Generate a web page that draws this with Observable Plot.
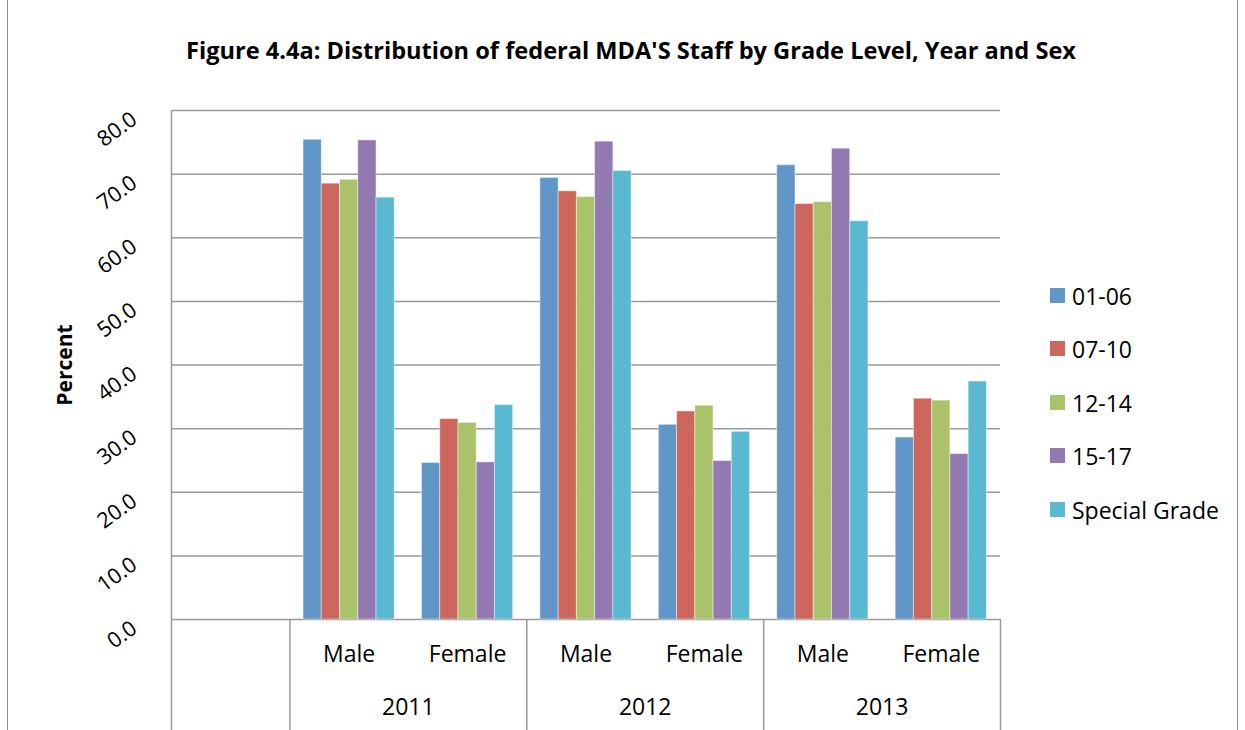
<!DOCTYPE html>
<html>
<head>
<meta charset="utf-8">
<script src="https://cdn.jsdelivr.net/npm/d3@7"></script>
<script src="https://cdn.jsdelivr.net/npm/@observablehq/plot@0.6"></script>
<style>
  html, body { margin: 0; padding: 0; background: #fff; overflow: hidden; }
  #wrap { position: relative; width: 1245px; height: 730px; font-family: "Open Sans", sans-serif; color: #000; }
  #frame { position: absolute; left: 7px; top: -2px; width: 1229px; height: 740px; border-left: 1.5px solid #8c8c8c; border-right: 1.5px solid #8c8c8c; }
  #title { position: absolute; left: 631px; top: 36px; transform: translateX(-50%); white-space: nowrap; font-weight: bold; font-size: 23.6px; line-height: 28px; }
  #legend { position: absolute; left: 1050px; top: 283px; }
  .row { position: relative; height: 53.4px; font-size: 23px; line-height: 26px; }
  .sw { position: absolute; left: 0; top: 5px; width: 15px; height: 15px; }
  .lb { position: absolute; left: 22px; top: 0; white-space: nowrap; }
  #chart { position: absolute; left: 0; top: 0; }
</style>
</head>
<body>
<div id="wrap">
  <div id="frame"></div>
  <div id="chart"></div>
  <div id="title">Figure 4.4a: Distribution of federal MDA'S Staff by Grade Level, Year and Sex</div>
  <div id="legend"></div>
</div>
<script>
// ---- data ----
const categories = ["", "Male", "Female", "Male", "Female", "Male", "Female"];
const years = ["2011", "2012", "2013"];
const grades = ["01-06", "07-10", "12-14", "15-17", "Special Grade"];
const colors = ["#6096c8", "#cd665c", "#aac36a", "#9279b2", "#58b9d1"];
// values per grade for: 2011 Male, 2011 Female, 2012 Male, 2012 Female, 2013 Male, 2013 Female
const g0106 = [75.4, 24.6, 69.4, 30.6, 71.4, 28.6];
const g0710 = [68.5, 31.5, 67.3, 32.7, 65.3, 34.7];
const g1214 = [69.1, 30.9, 66.4, 33.6, 65.6, 34.4];
const g1517 = [75.3, 24.7, 75.1, 24.9, 74.0, 26.0];
const gSpecial = [66.3, 33.7, 70.5, 29.5, 62.6, 37.4];
const yTicks = [0, 10, 20, 30, 40, 50, 60, 70, 80];

// ---- layout constants (not data) ----
const PAD = 0.115;           // gap before a group of bars, in category units
const BW = (1 - 2 * PAD) / grades.length; // bar width in category units
const BELOW = -18;           // how far separators extend below zero (value units)

const series = [g0106, g0710, g1214, g1517, gSpecial];
const rows = [];
series.forEach((vals, gi) => vals.forEach((v, k) => rows.push({cat: k + 1, gi, grade: grades[gi], value: v})));

const catLabels = categories.map((c, i) => ({c, i})).filter(d => d.c !== "");
const yearLabels = years.map((y, k) => ({y, x: 2 * k + 2}));
const separators = years.map((_, k) => 1 + 2 * k).concat([categories.length]);

const grid = "#9a9a9a";
const chart = Plot.plot({
  width: 1245,
  height: 730,
  marginLeft: 171,
  marginRight: 245,
  marginTop: 110,
  marginBottom: 111,
  style: {fontFamily: "'Open Sans', sans-serif", background: "transparent", overflow: "visible"},
  x: {domain: [0, categories.length], axis: null},
  y: {domain: [0, 80], axis: null},
  color: {domain: grades, range: colors},
  marks: [
    Plot.ruleY(yTicks, {stroke: grid, strokeWidth: 1.5}),
    Plot.rectY(rows, {
      x1: d => d.cat + PAD + d.gi * BW,
      x2: d => d.cat + PAD + (d.gi + 1) * BW,
      y1: 0, y2: "value", fill: "grade",
      stroke: "#ffffff", strokeOpacity: 0.45, strokeWidth: 1
    }),
    Plot.ruleX([0], {y1: 80, y2: BELOW, stroke: grid, strokeWidth: 1.5}),
    Plot.ruleX(separators, {y1: 0, y2: BELOW, stroke: grid, strokeWidth: 1.5}),
    Plot.text(yTicks, {x: 0, y: d => d, text: d => d.toFixed(1), rotate: -36, textAnchor: "end", lineAnchor: "bottom", dx: -33, dy: 12, fontSize: 21.5, fill: "#000"}),
    Plot.text(catLabels, {x: d => d.i + 0.5, y: 0, text: "c", dy: 35, fontSize: 23, fill: "#000"}),
    Plot.text(yearLabels, {x: "x", y: 0, text: "y", dy: 88, fontSize: 23, fill: "#000"}),
    Plot.text(["Percent"], {x: 0, y: 40, text: d => d, rotate: -90, dx: -106, fontSize: 21, fontWeight: "bold", fill: "#000"})
  ]
});
document.getElementById("chart").appendChild(chart);

const legend = document.getElementById("legend");
grades.forEach((g, i) => {
  const row = document.createElement("div");
  row.className = "row";
  row.innerHTML = `<div class="sw" style="background:${colors[i]}"></div><div class="lb">${g}</div>`;
  legend.appendChild(row);
});
</script>
</body>
</html>
